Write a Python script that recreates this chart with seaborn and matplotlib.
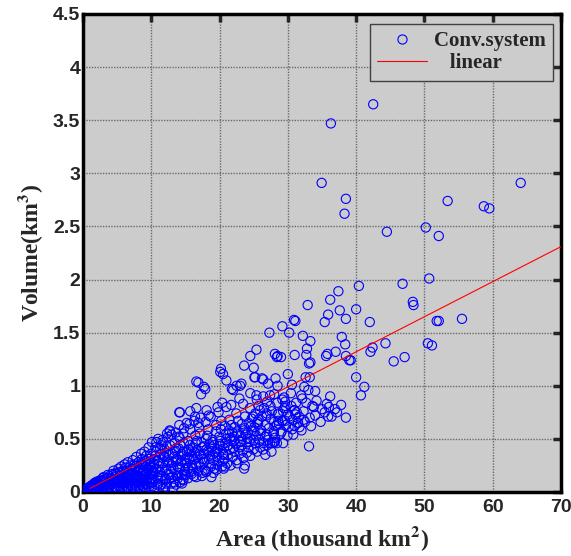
import matplotlib
matplotlib.use("Agg")
import matplotlib.pyplot as plt
import seaborn as sns
import numpy as np
import pandas as pd
from matplotlib.lines import Line2D

# ---------------- data ----------------
# sparse / outer points (thousand km^2, km^3)
area_outer = [42.5, 36.3, 34.95, 38.5, 38.3, 53.4, 64.1, 58.7, 59.5, 44.5, 50.2, 52.1, 50.7, 46.8,
              40.4, 37.4, 36.2, 32.9, 48.3, 48.4, 37.6, 40.0, 35.9, 35.4, 38.5, 30.9, 31.1, 29.2,
              30.2, 42.0, 51.8, 52.1, 55.5, 32.2, 33.3, 37.9, 38.4, 32.8, 31.0, 29.0, 32.7, 37.0,
              35.6, 35.8, 38.5, 39.0, 39.2, 33.3, 33.1, 30.0, 32.6, 33.2, 40.0, 42.4, 42.1, 44.3,
              45.5, 47.1, 50.5, 51.1]
volume_outer = [3.65, 3.47, 2.91, 2.76, 2.62, 2.74, 2.91, 2.69, 2.67, 2.45, 2.49, 2.41, 2.01, 1.96,
                1.94, 1.89, 1.81, 1.76, 1.79, 1.76, 1.71, 1.72, 1.67, 1.60, 1.63, 1.62, 1.61, 1.56,
                1.50, 1.60, 1.61, 1.61, 1.63, 1.47, 1.42, 1.46, 1.39, 1.35, 1.29, 1.27, 1.29, 1.32,
                1.28, 1.30, 1.28, 1.24, 1.24, 1.22, 1.21, 1.11, 1.08, 1.08, 1.08, 1.36, 1.32, 1.40,
                1.23, 1.27, 1.40, 1.38]

area_mid_hi = [27.3, 25.4, 24.5, 28.1, 28.5, 28.4, 23.6, 25.0, 20.2, 20.5, 21.0, 25.1, 26.4, 28.2,
               28.5, 41.2, 40.7, 16.9, 17.9, 17.3, 21.8, 23.0, 34.0, 32.4, 33.0, 30.6, 28.0, 32.1,
               32.7, 33.6, 33.8, 29.2, 29.6, 35.7, 36.9, 37.2, 36.4, 35.4, 35.9, 31.0, 31.3, 29.3,
               32.3, 31.5, 31.0, 32.0, 28.6, 29.6, 30.8, 33.1, 27.9, 28.4, 29.3, 27.6, 17.7, 20.1,
               22.5, 23.2, 22.0, 25.2, 26.2, 27.1, 24.5, 25.4, 26.4, 27.4, 14.1, 15.7, 16.4, 15.2,
               16.9, 12.7, 13.0, 11.8, 11.3, 24.5, 24.4, 23.7, 23.6, 26.4, 26.7, 27.4, 26.9, 27.9,
               28.1, 28.4, 24.9, 25.7, 25.9, 26.9, 19.6, 20.8, 18.8, 14.5, 14.7, 16.6, 18.1, 16.6,
               14.2]
volume_mid_hi = [1.50, 1.34, 1.28, 1.30, 1.28, 1.27, 1.19, 1.17, 1.16, 1.11, 1.05, 1.08, 1.06, 1.07,
                 1.00, 0.99, 0.91, 1.03, 0.97, 0.92, 0.97, 1.00, 0.95, 0.99, 0.96, 1.01, 0.92, 0.88,
                 0.84, 0.81, 0.80, 0.87, 0.85, 0.83, 0.78, 0.75, 0.71, 0.75, 0.71, 0.77, 0.75, 0.76,
                 0.68, 0.65, 0.62, 0.58, 0.67, 0.67, 0.54, 0.43, 0.47, 0.46, 0.46, 0.38, 0.99, 1.13,
                 1.00, 1.02, 0.96, 1.08, 1.07, 1.02, 0.93, 0.91, 0.90, 0.91, 0.75, 0.76, 0.71, 0.65,
                 0.65, 0.57, 0.54, 0.47, 0.41, 0.50, 0.47, 0.25, 0.22, 0.40, 0.35, 0.46, 0.54, 0.55,
                 0.47, 0.63, 0.71, 0.68, 0.77, 0.74, 0.21, 0.24, 0.14, 0.08, 0.11, 0.79, 0.77, 1.04,
                 0.75]

# body of the cloud, 10-38 thousand km^2
area_mid = [10.1, 10.5, 10.25, 10.6, 10.05, 10.4,
            10.7, 11.0, 10.65, 10.95, 10.75, 10.9,
            11.15, 11.45, 11.2, 11.5, 11.25, 11.35,
            11.6, 11.95, 11.7, 12.0, 11.85, 11.65,
            12.2, 12.45, 12.1, 12.5, 12.25, 12.4, 12.15,
            12.65, 12.95, 12.7, 13.0, 12.85, 12.75,
            13.2, 13.45, 13.1, 13.5, 13.25, 13.35,
            13.65, 13.95, 13.7, 14.0, 13.85, 13.75,
            14.2, 14.45, 14.1, 14.5, 14.25, 14.4, 14.15,
            14.65, 14.95, 14.7, 15.0, 14.85, 14.75,
            15.2, 15.45, 15.1, 15.5, 15.25, 15.35,
            15.65, 15.95, 15.7, 16.0, 15.85, 15.75,
            16.2, 16.45, 16.1, 16.5, 16.25, 16.35,
            16.65, 16.95, 16.7, 17.0, 16.85, 16.75,
            17.2, 17.45, 17.1, 17.5, 17.25, 17.35,
            17.65, 17.95, 17.7, 18.0, 17.85, 17.75,
            18.2, 18.45, 18.1, 18.5, 18.25, 18.35,
            18.65, 18.95, 18.7, 19.0, 18.85, 18.75,
            19.2, 19.45, 19.1, 19.5, 19.25, 19.35,
            19.65, 19.95, 19.7, 20.0, 19.85, 19.75,
            20.2, 20.45, 20.1, 20.5, 20.25, 20.35,
            20.65, 20.95, 20.7, 21.0, 20.85, 20.75,
            21.2, 21.45, 21.1, 21.5, 21.25, 21.35,
            21.65, 21.95, 21.7, 22.0, 21.85,
            22.2, 22.45, 22.1, 22.5, 22.25, 22.35,
            22.65, 22.95, 22.7, 23.0, 22.85,
            23.2, 23.45, 23.1, 23.5, 23.25, 23.35,
            23.65, 23.95, 23.7, 24.0, 23.85,
            24.2, 24.45, 24.1, 24.5, 24.25,
            24.65, 24.95, 24.7, 25.0,
            25.2, 25.45, 25.1, 25.5, 25.25, 25.35,
            25.65, 25.95, 25.7, 26.0, 25.85,
            26.2, 26.45, 26.1, 26.5,
            26.65, 26.95, 26.7, 27.0, 26.85,
            27.2, 27.45, 27.1, 27.5,
            27.65, 27.95, 27.7, 28.0,
            28.2, 28.45, 28.1, 28.5,
            28.65, 28.95, 28.7,
            29.2, 29.45, 29.1, 29.5,
            29.65, 29.95, 29.7, 30.0,
            30.2, 30.45, 30.1, 30.5,
            30.65, 30.95, 30.7,
            31.2, 31.45, 31.1,
            31.65, 31.95, 31.7,
            32.5, 32.3,
            33.2, 33.4,
            34.0, 34.2,
            35.0, 34.8,
            36.0, 36.2,
            37.8,
            38.5]
volume_mid = [0.09, 0.31, 0.18, 0.42, 0.05, 0.26,
              0.22, 0.13, 0.38, 0.29, 0.47, 0.16,
              0.33, 0.07, 0.24, 0.44, 0.19, 0.36,
              0.15, 0.40, 0.27, 0.11, 0.34, 0.49,
              0.21, 0.52, 0.12, 0.30, 0.43, 0.17, 0.37,
              0.35, 0.19, 0.58, 0.25, 0.13, 0.44,
              0.28, 0.46, 0.14, 0.39, 0.22, 0.33,
              0.41, 0.18, 0.31, 0.52, 0.24, 0.15,
              0.23, 0.36, 0.63, 0.16, 0.44, 0.29, 0.51,
              0.38, 0.21, 0.55, 0.31, 0.17, 0.46,
              0.27, 0.48, 0.16, 0.40, 0.33, 0.22,
              0.44, 0.25, 0.59, 0.34, 0.19, 0.38,
              0.31, 0.53, 0.22, 0.46, 0.15, 0.37,
              0.48, 0.27, 0.39, 0.61, 0.20, 0.33,
              0.24, 0.42, 0.55, 0.18, 0.35, 0.47,
              0.36, 0.66, 0.28, 0.50, 0.21, 0.43,
              0.53, 0.31, 0.19, 0.45, 0.38, 0.59,
              0.27, 0.49, 0.71, 0.35, 0.42, 0.24,
              0.44, 0.57, 0.30, 0.63, 0.22, 0.37,
              0.33, 0.52, 0.26, 0.45, 0.75, 0.40,
              0.59, 0.29, 0.48, 0.36, 0.67, 0.24,
              0.41, 0.55, 0.31, 0.80, 0.46, 0.62,
              0.35, 0.68, 0.27, 0.51, 0.44, 0.58,
              0.49, 0.33, 0.63, 0.41, 0.56,
              0.38, 0.74, 0.52, 0.30, 0.61, 0.45,
              0.57, 0.36, 0.67, 0.48, 0.42,
              0.44, 0.83, 0.53, 0.32, 0.64, 0.39,
              0.60, 0.47, 0.71, 0.37, 0.54,
              0.42, 0.79, 0.56, 0.34, 0.65,
              0.58, 0.40, 0.69, 0.49,
              0.46, 0.87, 0.61, 0.38, 0.74, 0.53,
              0.64, 0.42, 0.81, 0.55, 0.49,
              0.71, 0.46, 0.58, 0.79,
              0.52, 0.85, 0.63, 0.44, 0.72,
              0.60, 0.81, 0.49, 0.69,
              0.76, 0.57, 0.46, 0.66,
              0.62, 0.84, 0.51, 0.73,
              0.74, 0.55, 0.64,
              0.67, 0.89, 0.57, 0.79,
              0.81, 0.53, 0.63, 0.73,
              0.71, 0.93, 0.61, 0.81,
              0.59, 0.77, 0.68,
              0.84, 0.65, 0.73,
              0.71, 0.91, 0.61,
              0.66, 0.76,
              0.70, 0.62,
              0.72, 0.86,
              0.78, 0.66,
              0.80, 0.90,
              0.82,
              0.70]

# extra points filling the densest part of the cloud (6-26 thousand km^2)
area_fill = [10.2, 10.9, 11.4, 12.2, 12.6, 13.4, 13.9, 14.6, 15.4, 15.9, 16.6, 17.4, 18.0,
             19.1, 20.6, 21.6, 22.6,
             8.2, 8.8, 9.4, 10.3, 10.6, 11.1, 11.6, 12.0, 12.6, 13.1, 13.6, 14.0, 14.4, 14.9,
             15.2, 15.6, 16.1, 16.6, 17.0, 17.6, 18.1, 18.6, 19.0, 19.6, 20.1, 20.6, 21.0, 21.5,
             22.1, 22.6, 23.1, 23.6, 24.1, 24.6, 25.1, 25.6,
             11.0, 12.3, 13.6, 14.8, 15.6, 16.3, 17.2, 18.4, 19.7, 20.4, 21.7, 22.9]
volume_fill = [0.12, 0.07, 0.12, 0.08, 0.16, 0.09, 0.13, 0.12, 0.13, 0.17, 0.14, 0.15, 0.19,
               0.18, 0.22, 0.25, 0.27,
               0.21, 0.26, 0.22, 0.23, 0.34, 0.27, 0.21, 0.33, 0.28, 0.36, 0.29, 0.41, 0.34, 0.27,
               0.38, 0.31, 0.42, 0.26, 0.36, 0.31, 0.40, 0.34, 0.47, 0.38, 0.43, 0.35, 0.50, 0.40,
               0.48, 0.55, 0.47, 0.58, 0.50, 0.62, 0.57, 0.66,
               0.50, 0.55, 0.56, 0.60, 0.64, 0.67, 0.70, 0.72, 0.80, 0.84, 0.82, 0.88]

# dense core near the origin
area_core = [0.15, 0.25,
             0.35, 0.45,
             0.55, 0.65, 0.6,
             0.75, 0.85, 0.8,
             0.95, 1.05, 1.0,
             1.15, 1.25, 1.2,
             1.35, 1.45, 1.3, 1.5,
             1.55, 1.65, 1.6,
             1.75, 1.85, 1.8,
             1.95, 2.05, 1.9, 2.1,
             2.15, 2.25, 2.2,
             2.35, 2.45, 2.3, 2.5,
             2.55, 2.65, 2.6,
             2.75, 2.85, 2.7, 2.9,
             2.95, 3.05, 3.1, 2.9, 3.0,
             3.2, 3.35, 3.4, 3.25,
             3.5, 3.65, 3.7, 3.55, 3.6,
             3.8, 3.95, 4.0, 3.85,
             4.1, 4.25, 4.3, 4.15, 4.2,
             4.4, 4.55, 4.6, 4.45, 4.5,
             4.7, 4.85, 4.9, 4.75, 4.8,
             5.0, 5.15, 5.2, 5.05, 5.1, 5.25,
             5.3, 5.45, 5.5, 5.35, 5.4,
             5.6, 5.75, 5.8, 5.65, 5.7, 5.85,
             5.9, 6.05, 6.1, 5.95, 6.0, 6.15, 6.2,
             6.2, 6.35, 6.4, 6.25, 6.3, 6.45,
             6.5, 6.65, 6.7, 6.55, 6.6, 6.75, 6.8,
             6.8, 6.95, 7.0, 6.85, 6.9, 7.05,
             7.1, 7.25, 7.3, 7.15, 7.2, 7.35, 7.4,
             7.4, 7.55, 7.6, 7.45, 7.5, 7.65, 7.7,
             7.7, 7.85, 7.9, 7.75, 7.8, 7.95, 8.0,
             8.0, 8.15, 8.2, 8.05, 8.1, 8.25, 8.3,
             8.3, 8.45, 8.5, 8.35, 8.4, 8.55, 8.6, 8.65,
             8.6, 8.75, 8.8, 8.65, 8.7, 8.85, 8.9,
             8.9, 9.05, 9.1, 8.95, 9.0, 9.15, 9.2, 9.25,
             9.2, 9.35, 9.4, 9.25, 9.3, 9.45, 9.5,
             9.5, 9.65, 9.7, 9.55, 9.6, 9.75, 9.8, 9.85,
             9.8, 9.95, 10.0, 9.85, 9.9, 10.05, 10.1, 10.15,
             10.5, 11.3, 12.1, 12.9, 13.6, 14.2, 11.7, 13.2]
volume_core = [0.005, 0.01,
               0.01, 0.02,
               0.01, 0.02, 0.03,
               0.015, 0.03, 0.04,
               0.01, 0.03, 0.05,
               0.02, 0.04, 0.06,
               0.015, 0.035, 0.055, 0.07,
               0.02, 0.05, 0.08,
               0.03, 0.06, 0.09,
               0.02, 0.04, 0.07, 0.10,
               0.03, 0.06, 0.09,
               0.02, 0.05, 0.08, 0.11,
               0.04, 0.07, 0.10,
               0.03, 0.06, 0.09, 0.13,
               0.02, 0.05, 0.08, 0.11, 0.14,
               0.04, 0.07, 0.10, 0.12,
               0.03, 0.06, 0.09, 0.13, 0.16,
               0.05, 0.08, 0.11, 0.15,
               0.13, 0.03, 0.17, 0.07, 0.10,
               0.16, 0.09, 0.05, 0.20, 0.12,
               0.11, 0.18, 0.04, 0.14, 0.08,
               0.17, 0.06, 0.22, 0.10, 0.03, 0.13,
               0.12, 0.19, 0.05, 0.15, 0.09,
               0.24, 0.11, 0.04, 0.18, 0.08, 0.14,
               0.16, 0.03, 0.26, 0.10, 0.20, 0.07, 0.13,
               0.09, 0.19, 0.05, 0.23, 0.12, 0.15,
               0.21, 0.08, 0.14, 0.28, 0.04, 0.17, 0.11,
               0.13, 0.25, 0.06, 0.16, 0.10, 0.20,
               0.18, 0.05, 0.30, 0.12, 0.22, 0.09, 0.15,
               0.11, 0.26, 0.02, 0.21, 0.08, 0.14, 0.04,
               0.24, 0.10, 0.16, 0.06, 0.33, 0.13, 0.20,
               0.15, 0.28, 0.05, 0.19, 0.12, 0.23, 0.09,
               0.22, 0.07, 0.36, 0.14, 0.03, 0.27, 0.11, 0.18,
               0.13, 0.25, 0.06, 0.31, 0.17, 0.10, 0.20,
               0.19, 0.08, 0.29, 0.12, 0.38, 0.04, 0.24, 0.16,
               0.27, 0.11, 0.18, 0.34, 0.07, 0.22, 0.14,
               0.13, 0.31, 0.05, 0.21, 0.42, 0.09, 0.26, 0.17,
               0.24, 0.12, 0.36, 0.08, 0.29, 0.16, 0.47, 0.20,
               0.04, 0.06, 0.05, 0.08, 0.07, 0.09, 0.03, 0.04]

# fitted linear relation (end points of the red line)
fit_area = [1.0, 70.0]
fit_volume = [0.033, 2.31]

x_ticks = [0, 10, 20, 30, 40, 50, 60, 70]
y_ticks = [0, 0.5, 1, 1.5, 2, 2.5, 3, 3.5, 4, 4.5]
y_tick_labels = ["0", "0.5", "1", "1.5", "2", "2.5", "3", "3.5", "4", "4.5"]

# ---------------- figure ----------------
sns.set_style("white")
plt.rcParams["font.family"] = ["Liberation Sans", "DejaVu Sans"]
plt.rcParams["mathtext.fontset"] = "stix"

df = pd.DataFrame({
    "area": area_core + area_mid + area_fill + area_mid_hi + area_outer,
    "volume": volume_core + volume_mid + volume_fill + volume_mid_hi + volume_outer,
})

fig = plt.figure(figsize=(5.71, 5.56), dpi=100)
ax = fig.add_axes([83 / 571, 64 / 556, 478 / 571, 478 / 556])
ax.set_facecolor("#cccccc")

sns.scatterplot(data=df, x="area", y="volume", ax=ax, marker="o", s=44,
                color="#0000ff", linewidth=0.8, legend=False, zorder=3)
coll = ax.collections[-1]
coll.set_facecolor("none")
coll.set_edgecolor("#0000ff")

sns.lineplot(x=fit_area, y=fit_volume, ax=ax, color="#ff0000", linewidth=0.8,
             legend=False, zorder=4)

ax.set_xlim(0, 70)
ax.set_ylim(0, 4.5)
ax.set_xticks(x_ticks)
ax.set_yticks(y_ticks)
ax.set_yticklabels(y_tick_labels)
ax.grid(True, linestyle=(0, (1, 1)), color="#6a6a6a", linewidth=1.0)
ax.set_axisbelow(True)

for sp in ax.spines.values():
    sp.set_linewidth(2.5)
    sp.set_color("black")
ax.tick_params(direction="in", length=6, width=2.5, top=True, right=True,
               labelsize=14)
ax.tick_params(axis="x", pad=5)
ax.tick_params(axis="y", pad=2)
for lab in ax.get_xticklabels() + ax.get_yticklabels():
    lab.set_fontweight("bold")

ax.set_xlabel(r"Area (thousand km$^{\mathbf{2}}$)", fontsize=17, fontweight="bold",
              family="Liberation Serif", labelpad=6)
ax.set_ylabel(r"Volume(km$^{\mathbf{3}}$)", fontsize=17, fontweight="bold",
              family="Liberation Serif", labelpad=6)

handles = [
    Line2D([], [], linestyle="none", marker="o", markersize=6.6, markerfacecolor="none",
           markeredgecolor="#0000ff", markeredgewidth=0.8),
    Line2D([], [], color="#ff0000", linewidth=0.8),
]
leg = ax.legend(handles, ["Conv.system", "   linear"], loc="upper right",
                bbox_to_anchor=(0.983, 0.979), borderaxespad=0, fancybox=False,
                framealpha=1, facecolor="#cccccc", edgecolor="#404040",
                prop={"family": "Liberation Serif", "weight": "bold", "size": 15},
                handlelength=2.4, handletextpad=0.3, borderpad=0.35, labelspacing=0.1)
leg.get_frame().set_linewidth(1.0)

fig.savefig("out.png", dpi=100, facecolor="white")
